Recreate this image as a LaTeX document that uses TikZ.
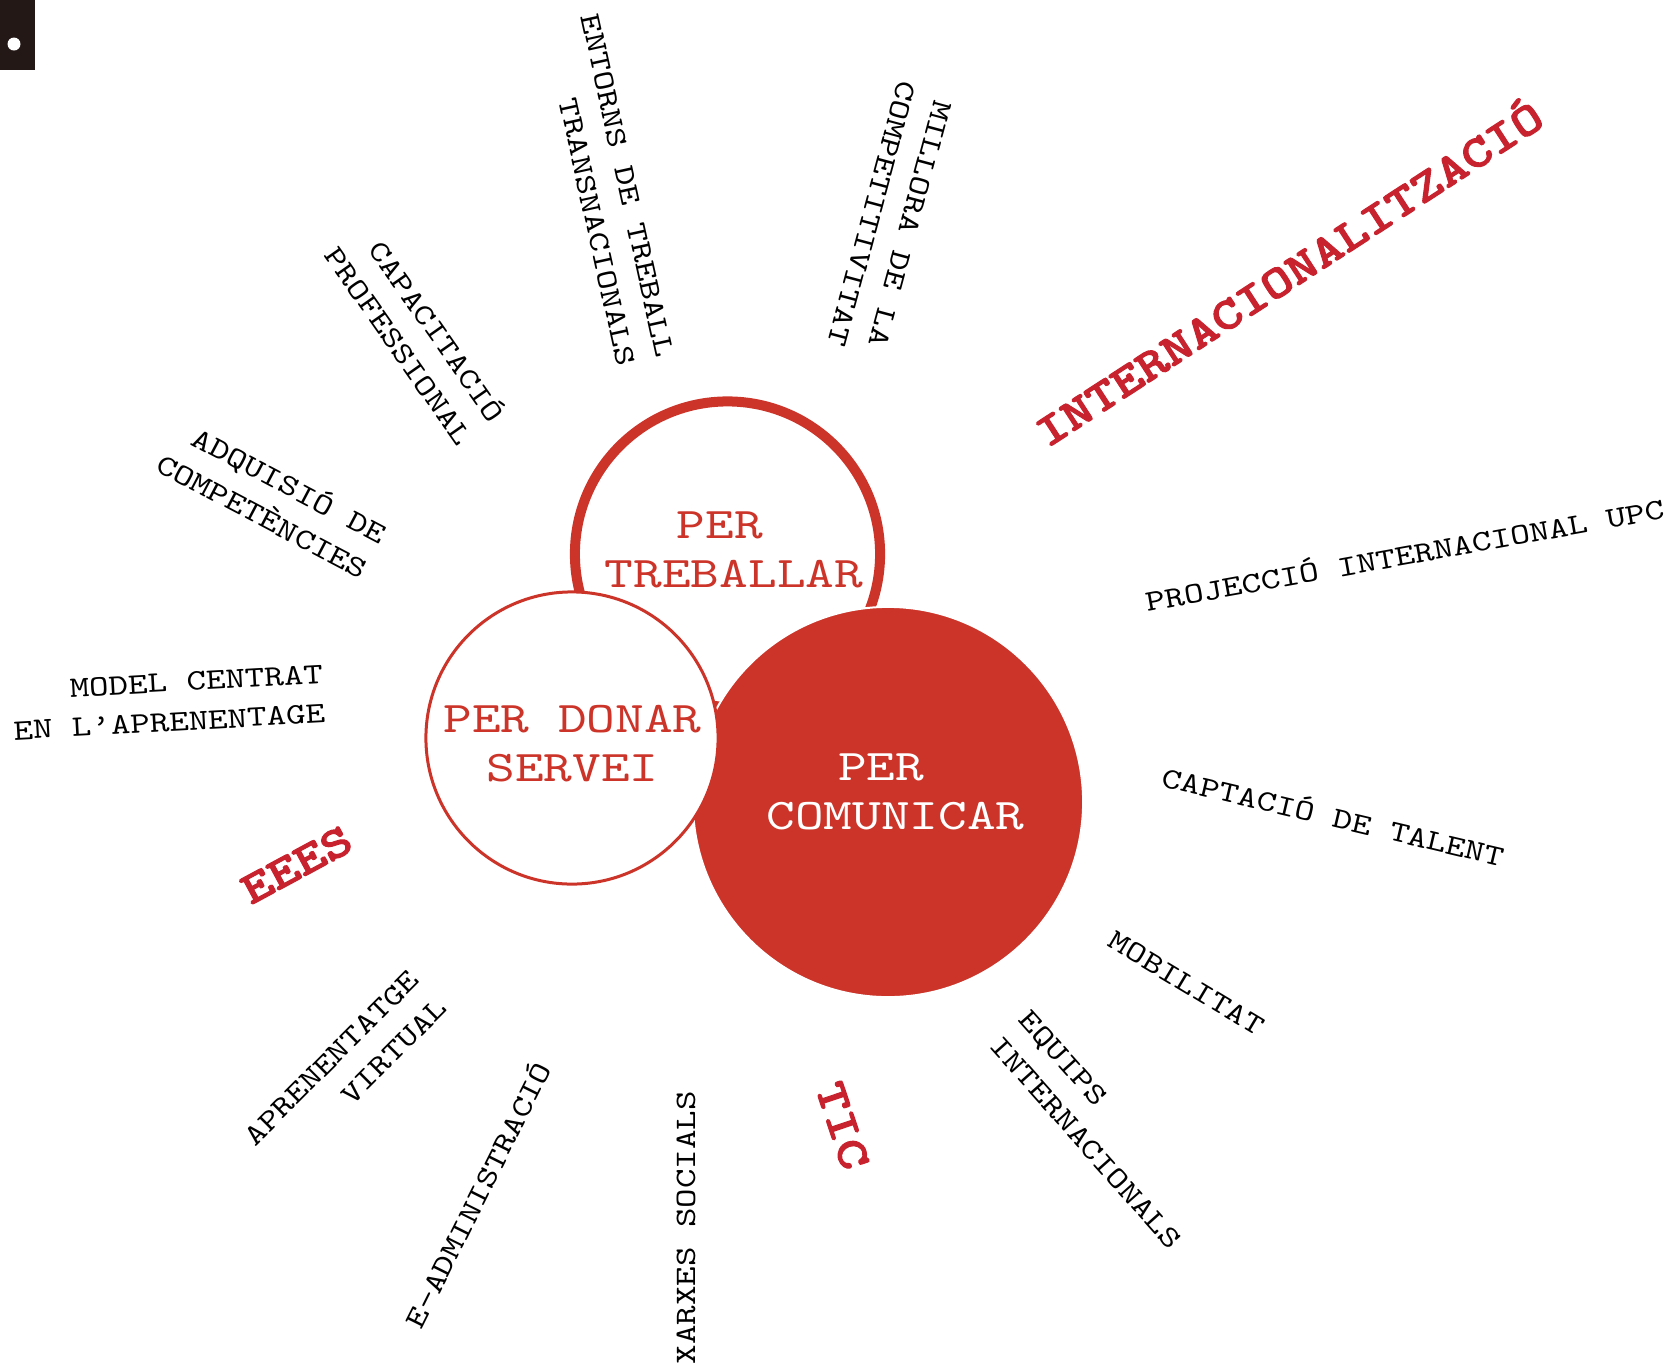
\documentclass[tikz,border=0pt]{standalone}
\usepackage{fontspec}
\usepackage{tikz}
\newfontfamily\monofam{lmmono10-regular.otf}[FakeStretch=1.25,BoldFont=lmmonolt10-bold.otf,BoldFeatures={FakeBold=2.2}]
\newcommand\lblfont{\monofam\fontsize{8.45pt}{11.24pt}\selectfont}
\newcommand\circfont{\monofam\fontsize{12.43pt}{13.94pt}\selectfont}
\newcommand\keyfont{\monofam\bfseries\fontsize{12.9pt}{14pt}\selectfont}
\definecolor{upcred}{RGB}{204,52,41}
\definecolor{keyred}{RGB}{200,34,46}
\definecolor{boxdark}{RGB}{35,24,21}

\begin{document}
\begin{tikzpicture}[x=0.01cm,y=-0.01cm]
	\useasboundingbox (0,0) rectangle (1675,1366);
	\fill[boxdark] (0,0) rectangle (35,70);
	\fill[white] (14,44) circle (6.5);

		\begin{scope}
            [
                every node/.style={circle, inner sep=0pt, outer sep=0pt}
            ]
			\node(treb)[draw=upcred, line width=0.1cm, minimum size=3.05cm] at (727.5,554) {};
			\node(comu)[fill=upcred, draw=white, line width=0.02cm, minimum size=3.9cm] at (888,802) {};
			\node(serv)[draw=upcred, fill=white, line width=0.03cm, minimum size=2.92cm] at (572,738) {};
		\end{scope}
		\begin{scope}
            [
                every node/.style={inner sep=0pt, align=center, font=\circfont, text=upcred}
            ]
			\node(trebtxt) at (734,550) {PER\phantom{R}\\TREBALLAR};
			\node(servtxt) at (572.5,743.3) {PER DONAR\\SERVEI};
			\node(comutxt)[text=white] at (895.5,791.5) {PER\phantom{R}\\COMUNICAR};
		\end{scope}
		\begin{scope}
            [
                every node/.style={inner sep=0pt, font=\keyfont, text=keyred}
            ]
			\node(intern)[rotate=33] at (1287,271) {INTERNACIONALITZACIÓ};
			\node(eees)[rotate=28.3] at (296.7,864.8) {EEES};
			\node(tic)[rotate=-71.5] at (842.5,1125.8) {TIC};
		\end{scope}
		\begin{scope}
            [
                every node/.style={inner sep=0pt, align=center, font=\lblfont, text=black}
            ]
			\node(capac)[rotate=-55, align=right] at (416.5,333.5) {CAPACITACIÓ\\PROFESSIONAL};
			\node(entorns)[rotate=-77.6, align=right] at (608.1,189.9) {ENTORNS DE TREBALL\\TRANSNACIONALS};
			\node(millora)[rotate=-105] at (891,218.8) {MILLORA DE LA\\COMPETITIVITAT};
			\node(adquis)[rotate=-27.8, align=right] at (272.4,497) {ADQUISIÓ DE\\COMPETÈNCIES};
			\node(model)[rotate=3.2, align=right] at (168.2,702.5) {MODEL CENTRAT\\EN L’APRENENTAGE};
			\node(aprvirt)[rotate=45, align=right] at (345.5,1071.8) {APRENENTATGE\\VIRTUAL};
			\node(eadmin)[rotate=63.5] at (476.5,1194.2) {E-ADMINISTRACIÓ};
			\node(xarxes)[rotate=90] at (686,1227.5) {XARXES SOCIALS};
			\node(equips)[rotate=-48.3, align=left] at (1100.5,1129.5) {EQUIPS\\INTERNACIONALS};
			\node(mobil)[rotate=-31] at (1186.7,983.3) {MOBILITAT};
			\node(captac)[rotate=-13.3] at (1333.8,815) {CAPTACIÓ DE TALENT};
			\node(projec)[rotate=10.2] at (1404.4,553.3) {PROJECCIÓ INTERNACIONAL UPC};
		\end{scope}
\end{tikzpicture}
\end{document}
